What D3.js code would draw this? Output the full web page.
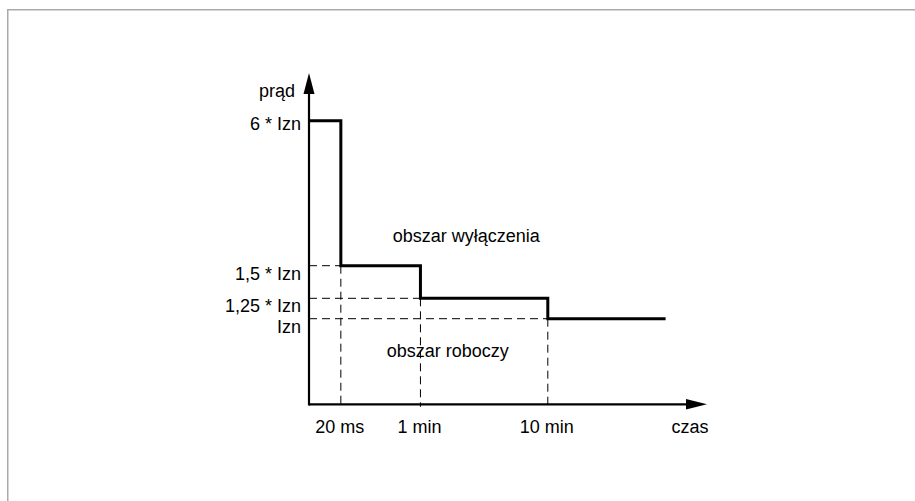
<!DOCTYPE html>
<html><head><meta charset="utf-8">
<script src="https://cdn.jsdelivr.net/npm/d3@7"></script>
<style>html,body{margin:0;padding:0;background:#fff;}svg{display:block;}</style>
</head><body>
<svg id="c" width="915" height="501"></svg>
<script>
// ---- data (schematic diagram) ----
const timeLabels = ["20 ms", "1 min", "10 min"];
const timePos = [1, 3.5, 7.5];          // schematic time-axis positions
const timeEnd = 11.2;                    // end of characteristic
const timeAxisMax = 12.5;                // arrow tip
const levelLabels = ["6 * Izn", "1,5 * Izn", "1,25 * Izn", "Izn"];
const levelValues = [6, 1.5, 1.25, 1];   // current multiples of Izn
const currentAxisMax = 7.6;              // arrow tip
const xTitle = "czas";
const yTitle = "prąd";
const regionTop = "obszar wyłączenia";
const regionBottom = "obszar roboczy";

// ---- layout ----
const svg = d3.select("#c");
const x0 = 309, y0 = 404.3;
const x = d3.scaleLinear().domain([0, timeAxisMax]).range([x0, 707]);
// schematic (not-to-scale) current axis
const y = d3.scaleLinear().domain([0, 1, 1.25, 1.5, 6, currentAxisMax])
  .range([y0, 318.7, 298.3, 265.7, 120.7, 73]);

const font = "'Liberation Sans', Arial, Helvetica, sans-serif";

// frame
svg.append("path").attr("d", "M7.75,501 V9.75 H915")
  .attr("fill", "none").attr("stroke", "#aaaaaa").attr("stroke-width", 1.5);

// dashed guide lines
const dash = "8,5";
const g = svg.append("g").attr("stroke", "#000").attr("stroke-width", 1).attr("stroke-dasharray", dash).attr("fill","none");
// horizontals: from axis to the start of each level's solid segment
levelValues.slice(1).forEach((v, i) => {
  g.append("line").attr("x1", x(0)).attr("x2", x(timePos[i])).attr("y1", y(v)).attr("y2", y(v));
});
// verticals: from each step down to the time axis
timePos.forEach((t, i) => {
  g.append("line").attr("x1", x(t)).attr("x2", x(t)).attr("y1", y(levelValues[i + 1])).attr("y2", y(0) + 2.5);
});

// characteristic (step line)
const pts = [[0, levelValues[0]]];
timePos.forEach((t, i) => { pts.push([t, levelValues[i]]); pts.push([t, levelValues[i + 1]]); });
pts.push([timeEnd, levelValues[levelValues.length - 1]]);
svg.append("path").datum(pts)
  .attr("d", d3.line().x(d => x(d[0])).y(d => y(d[1])))
  .attr("fill", "none").attr("stroke", "#000").attr("stroke-width", 3).attr("stroke-linejoin", "miter").attr("stroke-linecap","butt");

// axes
svg.append("line").attr("x1", x(0)).attr("x2", x(timeAxisMax) - 18).attr("y1", y(0)).attr("y2", y(0))
  .attr("stroke", "#000").attr("stroke-width", 2.2);
svg.append("line").attr("x1", x(0)).attr("x2", x(0)).attr("y1", y(0) + 1.1).attr("y2", y(currentAxisMax) + 18)
  .attr("stroke", "#000").attr("stroke-width", 2.2);
// arrow heads
const xt = x(timeAxisMax), yt = y(currentAxisMax);
svg.append("path").attr("d", `M${xt},${y(0)} L${xt - 21},${y(0) - 5.3} L${xt - 21},${y(0) + 5.3} Z`).attr("fill", "#000");
svg.append("path").attr("d", `M${x(0)},${yt} L${x(0) - 5.5},${yt + 21} L${x(0) + 5.5},${yt + 21} Z`).attr("fill", "#000");

// texts
const txt = (s, tx, ty, anchor) => svg.append("text").text(s).attr("x", tx).attr("y", ty)
  .attr("text-anchor", anchor).attr("font-family", font).attr("font-size", 18).attr("fill", "#000");

txt(yTitle, x(0) - 14, 96.7, "end");
const levelOffsets = [9.6, 13.8, 13.4, 14];
levelLabels.forEach((l, i) => txt(l, x(0) - 8, y(levelValues[i]) + levelOffsets[i], "end"));
timeLabels.forEach((l, i) => txt(l, x(timePos[i]) - 1, 432.7, "middle"));
txt(xTitle, x(timeAxisMax) - 17, 432.7, "middle");
txt(regionTop, 392.7, 242.3, "start");
txt(regionBottom, 386.7, 357, "start");
</script>
</body></html>
